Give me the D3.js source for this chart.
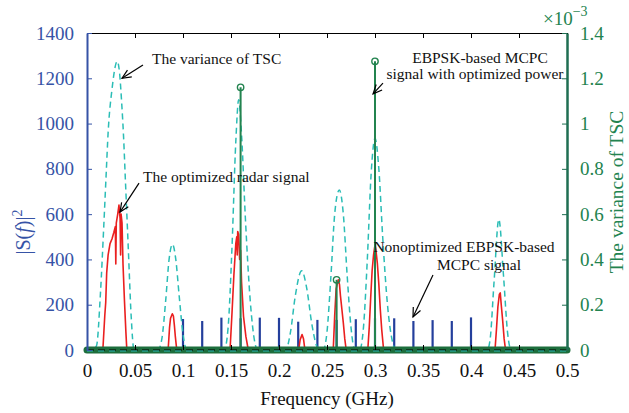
<!DOCTYPE html>
<html>
<head>
<meta charset="utf-8">
<script src="https://cdn.jsdelivr.net/npm/d3@7"></script>
<style>
  body { margin: 0; background: #fff; }
  svg { font-family: "Liberation Serif", "DejaVu Serif", serif; }
</style>
</head>
<body>
<div id="container"></div>
<script>
// axis ticks
const xTicks = [0, 0.05, 0.1, 0.15, 0.2, 0.25, 0.3, 0.35, 0.4, 0.45, 0.5];
const xTickLabels = ["0", "0.05", "0.1", "0.15", "0.2", "0.25", "0.3", "0.35", "0.4", "0.45", "0.5"];
const leftTicks = [0, 200, 400, 600, 800, 1000, 1200, 1400];
const rightTicks = [0, 0.2, 0.4, 0.6, 0.8, 1, 1.2, 1.4];
const rightTickLabels = ["0", "0.2", "0.4", "0.6", "0.8", "1", "1.2", "1.4"];

// nonoptimized EBPSK-based MCPC signal (blue stems, |S(f)|^2)
const mcpcFreq = [0.10, 0.12, 0.14, 0.16, 0.18, 0.20, 0.22, 0.24, 0.26, 0.28, 0.30, 0.32, 0.34, 0.36, 0.38, 0.40];
const mcpcPower = [137, 128, 143, 140, 143, 142, 125, 133, 133, 136, 140, 140, 128, 132, 128, 144];

// EBPSK-based MCPC signal with optimized power (green stems)
const optFreq = [0.16, 0.26, 0.30];
const optPower = [1160, 310, 1275];

// variance of TSC (x 1e-3, right axis)
const tscVariance = [
  [0, 0], [0.006, 0], [0.010, 0.02], [0.014, 0.25], [0.0175, 0.55], [0.020, 0.78], [0.022, 0.96],
  [0.026, 1.15], [0.0315, 1.275], [0.034, 1.22], [0.036, 1.1], [0.038, 0.95], [0.040, 0.75],
  [0.043, 0.45], [0.046, 0.15], [0.049, 0],
  [0.074, 0], [0.078, 0.05], [0.082, 0.22], [0.0855, 0.40], [0.089, 0.467], [0.0925, 0.40],
  [0.096, 0.24], [0.100, 0.07], [0.104, 0],
  [0.143, 0], [0.147, 0.1], [0.151, 0.45], [0.155, 0.92], [0.158, 1.105], [0.161, 0.95],
  [0.165, 0.58], [0.170, 0.22], [0.175, 0.03], [0.178, 0],
  [0.207, 0], [0.212, 0.08], [0.217, 0.24], [0.2236, 0.35], [0.229, 0.27], [0.234, 0.12],
  [0.239, 0.02], [0.242, 0],
  [0.246, 0], [0.250, 0.08], [0.254, 0.32], [0.258, 0.6], [0.2628, 0.707], [0.267, 0.6],
  [0.271, 0.33], [0.275, 0.1], [0.279, 0],
  [0.284, 0], [0.288, 0.1], [0.292, 0.4], [0.296, 0.78], [0.300, 0.935], [0.304, 0.8],
  [0.308, 0.5], [0.313, 0.2], [0.318, 0.04], [0.322, 0],
  [0.417, 0], [0.420, 0.05], [0.424, 0.3], [0.429, 0.577], [0.434, 0.32], [0.438, 0.08],
  [0.442, 0], [0.5, 0]
];

// optimized radar signal (red, |S(f)|^2), one array per lobe
const radarLobe1 = [[0.0165, 0], [0.0185, 150], [0.0195, 210], [0.0205, 340], [0.022, 420], [0.024, 470],
  [0.026, 490], [0.028, 520], [0.0295, 545], [0.030, 380], [0.0305, 560], [0.032, 600], [0.0333, 640],
  [0.0345, 580], [0.035, 420], [0.0355, 600], [0.0365, 560], [0.0375, 380], [0.039, 220], [0.0405, 80], [0.0415, 0]];
const radarLobe2 = [[0.0845, 0], [0.086, 100], [0.087, 140], [0.0889, 160], [0.090, 150], [0.091, 110], [0.092, 60], [0.0935, 0]];
const radarLobe3 = [[0.149, 0], [0.151, 160], [0.153, 330], [0.155, 470], [0.156, 500], [0.1565, 420], [0.157, 523],
  [0.158, 510], [0.159, 400], [0.160, 440], [0.161, 300], [0.163, 150], [0.1655, 60], [0.168, 0]];
const radarLobe4 = [[0.2205, 0], [0.222, 45], [0.224, 68], [0.2255, 50], [0.227, 0]];
const radarLobe5 = [[0.2565, 0], [0.258, 150], [0.2595, 270], [0.2618, 310], [0.263, 290], [0.264, 240],
  [0.2655, 180], [0.267, 120], [0.2685, 50], [0.270, 0]];
const radarLobe6 = [[0.2925, 0], [0.294, 100], [0.2955, 230], [0.297, 350], [0.2985, 420], [0.300, 464],
  [0.301, 440], [0.3025, 380], [0.304, 290], [0.3055, 180], [0.307, 90], [0.309, 0]];
const radarLobe7 = [[0.425, 0], [0.4265, 90], [0.428, 190], [0.4295, 245], [0.4305, 252], [0.4315, 200],
  [0.433, 130], [0.4345, 50], [0.436, 0]];
const radarLobes = [radarLobe1, radarLobe2, radarLobe3, radarLobe4, radarLobe5, radarLobe6, radarLobe7];

const W = 629, H = 413;
const margin = { top: 33, right: 62, bottom: 63, left: 87 };
const width = W - margin.left - margin.right,
  height = H - margin.top - margin.bottom;

const blue = "#3653a6", green = "#23834f", greenAxis = "#1f6e52";

const x = d3.scaleLinear().domain([0, 0.5]).range([0, width]);
const y = d3.scaleLinear().domain([0, 1400]).range([height, 0]);
const yR = d3.scaleLinear().domain([0, 1.4]).range([height, 0]);

const svg = d3.select("#container").append("svg")
  .attr("width", W).attr("height", H);

const defs = svg.append("defs");
defs.append("marker")
  .attr("id", "arrow")
  .attr("markerUnits", "userSpaceOnUse")
  .attr("markerWidth", 14).attr("markerHeight", 14)
  .attr("viewBox", "-12 -6 14 12")
  .attr("refX", 0).attr("refY", 0)
  .attr("orient", "auto")
  .append("path")
  .attr("d", "M-9,-4 L0,0 L-9,4")
  .attr("fill", "none").attr("stroke", "#000").attr("stroke-width", 1.2);

const g = svg.append("g").attr("transform", `translate(${margin.left},${margin.top})`);

// blue stems
g.selectAll(".mcpc").data(mcpcFreq).enter().append("line")
  .attr("class", "mcpc")
  .attr("x1", (d) => x(d)).attr("x2", (d) => x(d))
  .attr("y1", y(0)).attr("y2", (d, i) => y(mcpcPower[i]))
  .attr("stroke", "#243f9c").attr("stroke-width", 2.2);

// red lobes
const redLine = d3.line().x((d) => x(d[0])).y((d) => y(d[1]));
g.selectAll(".radar").data(radarLobes).enter().append("path")
  .attr("class", "radar")
  .attr("d", redLine)
  .attr("fill", "none").attr("stroke", "#ea1f1f").attr("stroke-width", 1.6)
  .attr("stroke-linejoin", "round");

// cyan dashed
const cyanLine = d3.line().x((d) => x(d[0])).y((d) => yR(d[1])).curve(d3.curveMonotoneX);
g.append("path").datum(tscVariance)
  .attr("d", cyanLine)
  .attr("fill", "none").attr("stroke", "#2bbdb6").attr("stroke-width", 1.5)
  .attr("stroke-dasharray", "6,4");

// green stems
g.selectAll(".opt").data(optFreq).enter().append("line")
  .attr("class", "opt")
  .attr("x1", (d) => x(d)).attr("x2", (d) => x(d))
  .attr("y1", y(0)).attr("y2", (d, i) => y(optPower[i]))
  .attr("stroke", green).attr("stroke-width", 2);
g.selectAll(".optc").data(optFreq).enter().append("circle")
  .attr("class", "optc")
  .attr("cx", (d) => x(d)).attr("cy", (d, i) => y(optPower[i]))
  .attr("r", 3.2)
  .attr("fill", "none").attr("stroke", green).attr("stroke-width", 1.4);

// green zero band (stem markers at zero)
g.append("line")
  .attr("x1", x(0)).attr("x2", x(0.5)).attr("y1", y(0)).attr("y2", y(0))
  .attr("stroke", "#1d6e3d").attr("stroke-width", 7).attr("stroke-linecap", "round");
g.append("line")
  .attr("x1", x(0)).attr("x2", x(0.5)).attr("y1", y(0)).attr("y2", y(0))
  .attr("stroke", "#000").attr("stroke-width", 1).attr("stroke-dasharray", "7,4");
g.append("line")
  .attr("x1", x(0)).attr("x2", x(0.5)).attr("y1", y(0) + 1).attr("y2", y(0) + 1)
  .attr("stroke", "#2bbdb6").attr("stroke-width", 1).attr("stroke-dasharray", "6,5");

// axes
const xAxisTop = d3.axisTop(x).tickValues(xTicks).tickFormat("").tickSizeInner(-5).tickSizeOuter(0);
const topAxis = g.append("g").call(xAxisTop);
topAxis.selectAll("path,line").attr("stroke", "#000");

const xAxis = d3.axisBottom(x).tickValues(xTicks).tickSizeInner(-5).tickSizeOuter(0).tickPadding(14)
  .tickFormat((d, i) => xTickLabels[i]);
const bottomAxis = g.append("g").attr("transform", `translate(0,${height})`).call(xAxis);
bottomAxis.selectAll("line").attr("stroke", "#000");
bottomAxis.select(".domain").remove();
bottomAxis.selectAll("text").attr("font-size", 19).attr("font-family", "Liberation Serif").attr("fill", "#111");

const yAxis = d3.axisLeft(y).tickValues(leftTicks).tickSizeInner(-5).tickSizeOuter(0).tickPadding(13)
  .tickFormat(d3.format("d"));
const leftAxis = g.append("g").call(yAxis);
leftAxis.selectAll("path,line").attr("stroke", blue);
leftAxis.select(".domain").attr("stroke-width", 2);
leftAxis.selectAll("text").attr("font-size", 19).attr("font-family", "Liberation Serif").attr("fill", blue);

const yAxisR = d3.axisRight(yR).tickValues(rightTicks).tickSizeInner(-5).tickSizeOuter(0).tickPadding(13)
  .tickFormat((d, i) => rightTickLabels[i]);
const rightAxis = g.append("g").attr("transform", `translate(${width},0)`).call(yAxisR);
rightAxis.selectAll("path,line").attr("stroke", greenAxis);
rightAxis.select(".domain").attr("stroke-width", 2.5);
rightAxis.selectAll("text").attr("font-size", 19).attr("font-family", "Liberation Serif").attr("fill", green);

// x10^-3
const expLabel = svg.append("text").attr("x", 543).attr("y", 25).attr("fill", green).attr("font-size", 19);
expLabel.append("tspan").text("×10");
expLabel.append("tspan").attr("dy", -9).attr("font-size", 14).text("−3");

// axis titles
svg.append("text")
  .attr("x", margin.left + width / 2).attr("y", 405)
  .attr("text-anchor", "middle").attr("font-size", 19).attr("fill", "#111")
  .text("Frequency (GHz)");

const yl = svg.append("text")
  .attr("transform", "translate(30,232) rotate(-90)")
  .attr("text-anchor", "middle").attr("font-size", 20).attr("fill", blue);
yl.append("tspan").text("|S(");
yl.append("tspan").attr("font-style", "italic").text("f");
yl.append("tspan").text(")|");
yl.append("tspan").attr("dy", -8).attr("font-size", 14).text("2");

svg.append("text")
  .attr("transform", "translate(623,192) rotate(-90)")
  .attr("text-anchor", "middle").attr("font-size", 19.5).attr("fill", green)
  .text("The variance of TSC");

// annotations
const notes = [
  { text: "The variance of TSC", x: 152, y: 64, anchor: "start" },
  { text: "The optimized radar signal", x: 143, y: 182, anchor: "start" },
  { text: "EBPSK-based MCPC", x: 480, y: 63, anchor: "middle" },
  { text: "signal with optimized power", x: 475, y: 79, anchor: "middle" },
  { text: "Nonoptimized EBPSK-based", x: 464, y: 252, anchor: "middle" },
  { text: "MCPC signal", x: 479, y: 270, anchor: "middle" }
];
svg.selectAll(".note").data(notes).enter().append("text")
  .attr("class", "note")
  .attr("x", (d) => d.x).attr("y", (d) => d.y)
  .attr("text-anchor", (d) => d.anchor)
  .attr("font-size", 15.5).attr("fill", "#111")
  .text((d) => d.text);

const arrows = [
  { from: [0.0583, 1259], to: [0.0365, 1200] },
  { from: [0.0542, 737], to: [0.0344, 609] },
  { from: [0.3083, 1179], to: [0.298, 1131] },
  { from: [0.3604, 331], to: [0.3396, 146] }
];
g.selectAll(".arrow").data(arrows).enter().append("line")
  .attr("class", "arrow")
  .attr("x1", (d) => x(d.from[0])).attr("y1", (d) => y(d.from[1]))
  .attr("x2", (d) => x(d.to[0])).attr("y2", (d) => y(d.to[1]))
  .attr("stroke", "#000").attr("stroke-width", 1.2)
  .attr("marker-end", "url(#arrow)");
</script>
</body>
</html>
